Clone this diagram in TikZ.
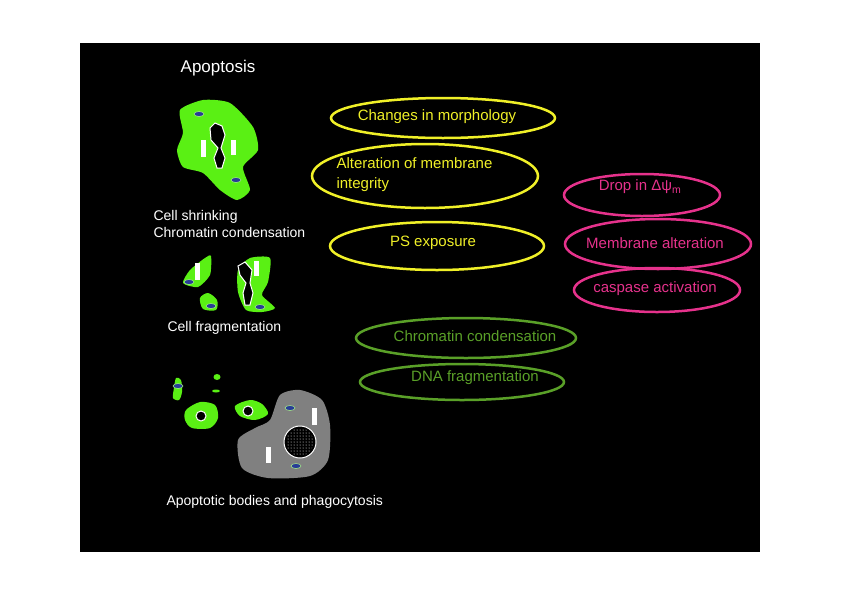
\documentclass[tikz,border=0pt]{standalone}
\usepackage{fontspec}
\setmainfont{Liberation Sans}
\usetikzlibrary{patterns}
\definecolor{cellgreen}{RGB}{90,240,20}
\definecolor{oval}{RGB}{40,60,150}
\definecolor{ylw}{RGB}{240,240,40}
\definecolor{pnk}{RGB}{230,50,140}
\definecolor{olv}{RGB}{90,160,40}
\definecolor{macro}{RGB}{128,128,128}
\tikzset{
  lbl/.style={text=white,font=\fontsize{14}{17}\selectfont,align=left},
  ytext/.style={text=ylw,font=\fontsize{15}{20}\selectfont,align=left},
  ptext/.style={text=pnk,font=\fontsize{15}{18}\selectfont},
  gtext/.style={text=olv,font=\fontsize{15}{18}\selectfont},
  ring/.style={line width=2.5pt},
  blob/.style={fill=cellgreen,draw=none},
  bluedot/.style={fill=oval,draw=cellgreen!50!white,line width=0.5pt},
  fibre/.style={fill=white,draw=none},
}
\begin{document}
\begin{tikzpicture}[x=1pt,y=-1pt]
\useasboundingbox (0,0) rectangle (842,595);
\fill[white] (0,0) rectangle (842,595);
\fill[black] (80,43) rectangle (760,552);

% labels
\node[lbl,font=\fontsize{17}{20}\selectfont] (title) at (218,68) {Apoptosis};
\node[lbl,anchor=west] (shrink) at (150,224) {Cell shrinking\\Chromatin condensation};
\node[lbl,anchor=west] (frag) at (164,328) {Cell fragmentation};
\node[lbl,anchor=west] (bodies) at (163,502) {Apoptotic bodies and phagocytosis};

% yellow ellipses
\draw[ylw,ring] (443,118) ellipse (112 and 20);
\node[ytext] (morph) at (437,117) {Changes in morphology};
\draw[ylw,ring] (425,176) ellipse (113 and 32);
\node[ytext,anchor=west] (integ) at (333,175) {Alteration of membrane\\integrity};
\draw[ylw,ring] (437,246) ellipse (107 and 24);
\node[ytext] (ps) at (433,243) {PS exposure};

% pink ellipses
\draw[pnk,ring] (642,195) ellipse (78 and 21);
\node[ptext] (drop) at (640,187) {Drop in Δψ\textsubscript{m}};
\draw[pnk,ring] (658,244) ellipse (93 and 25);
\node[ptext] (memb) at (655,243) {Membrane alteration};
\draw[pnk,ring] (657,290) ellipse (83 and 22);
\node[ptext] (casp) at (655,289) {caspase activation};

% green ellipses
\draw[olv,ring] (466,338) ellipse (110 and 20);
\node[gtext] (chrom) at (475,336) {Chromatin condensation};
\draw[olv,ring] (462,382) ellipse (102 and 18);
\node[gtext] (dna) at (475,378) {DNA fragmentation};

% shrinking cell
\fill[blob] plot[smooth cycle,tension=0.4] coordinates {(180,110) (203,100) (230,103) (253,127) (258,150) (243,167) (250,190) (237,200) (220,190) (203,173) (183,167) (177,150) (183,133)};
\fill[bluedot] (199,114) ellipse (5 and 2.5);
\fill[bluedot] (236,180) ellipse (5 and 2.5);
\draw[white,fill=black,line width=1pt] (210,128) -- (215,123) -- (222,126) -- (225,135) -- (221,148) -- (225,158) -- (222,168) -- (217,168) -- (214,158) -- (218,148) -- (211,140) -- cycle;
\fill[fibre] (201,140) rectangle (206,157);
\fill[fibre] (231,140) rectangle (236,155);

% fragmentation
\fill[blob] plot[smooth cycle,tension=0.4] coordinates {(183,283) (190,270) (205,258) (211,256) (210,275) (198,287)};
\fill[bluedot] (189,282) ellipse (5 and 2.5);
\fill[fibre] (195,263) rectangle (200,280);
\fill[blob] plot[smooth cycle,tension=0.5] coordinates {(200,298) (208,293) (217,300) (216,310) (203,309)};
\fill[bluedot] (211,306) ellipse (5 and 2.5);
\fill[blob] plot[smooth cycle,tension=0.4] coordinates {(238,270) (250,258) (270,258) (268,282) (262,295) (275,308) (262,312) (246,310) (238,292)};
\fill[bluedot] (260,307) ellipse (5 and 2.5);
\draw[white,fill=black,line width=1pt] (238,266) -- (245,262) -- (252,270) -- (250,283) -- (253,293) -- (250,305) -- (245,305) -- (243,293) -- (246,283) -- (240,275) -- cycle;
\fill[fibre] (254,261) rectangle (259,276);

% bodies and phagocytosis
\fill[blob] plot[smooth cycle,tension=0.5] coordinates {(174,388) (176,378) (181,380) (182,392) (179,400) (173,398)};
\fill[bluedot] (178,386) ellipse (5 and 2.5);
\fill[blob] (217,377) ellipse (3.5 and 3);
\fill[blob] (216,391) ellipse (4 and 1.5);
\fill[blob] plot[smooth cycle,tension=0.5] coordinates {(186,410) (200,402) (215,405) (218,418) (210,428) (192,428) (185,420)};
\draw[white,fill=black,line width=1pt] (201,416) circle (5);
\fill[blob] plot[smooth cycle,tension=0.5] coordinates {(235,406) (250,400) (262,404) (268,414) (255,420) (240,416)};
\draw[white,fill=black,line width=1pt] (248,411) circle (5);
\fill[macro] plot[smooth cycle,tension=0.45] coordinates {(238,440) (255,428) (270,420) (280,395) (300,390) (322,400) (330,425) (328,460) (310,476) (268,478) (242,468)};
\fill[bluedot] (290,408) ellipse (5 and 2.5);
\fill[bluedot] (296,466) ellipse (5 and 2.5);
\draw[white,line width=1pt,fill=black] (300,442) circle (16);
\fill[pattern=dots,pattern color=white] (300,442) circle (14);
\fill[fibre] (312,408) rectangle (317,425);
\fill[fibre] (266,447) rectangle (271,463);
\end{tikzpicture}
\end{document}
